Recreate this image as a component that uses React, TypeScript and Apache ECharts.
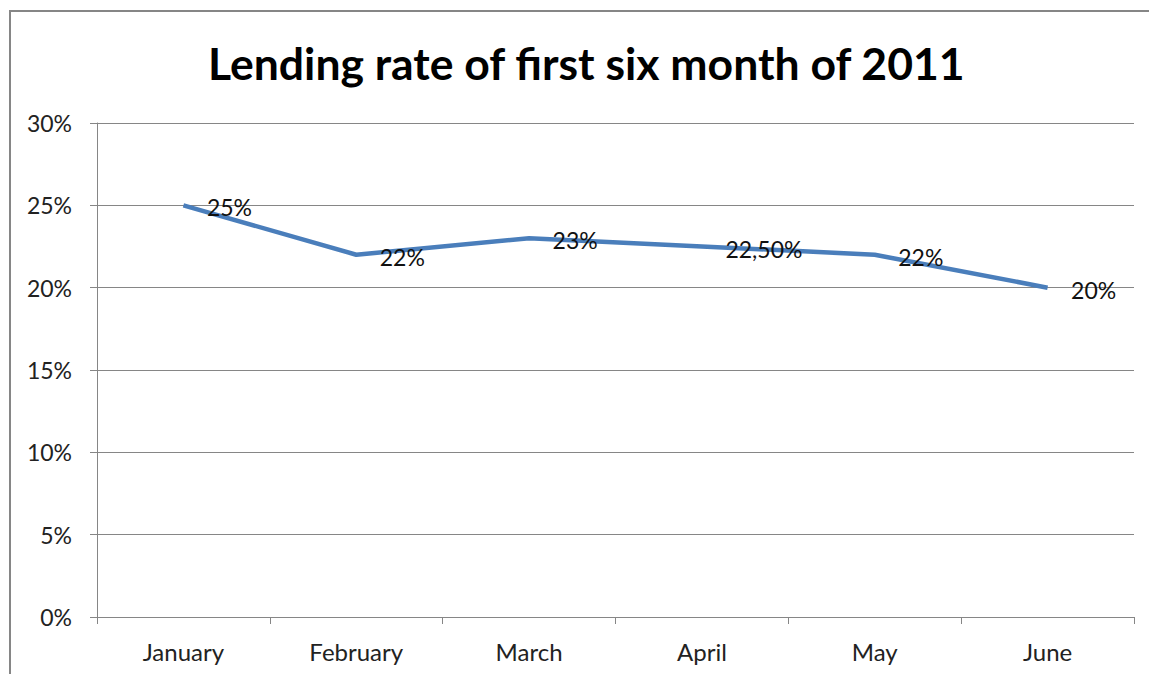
import React, { useEffect, useRef } from "react";
import * as echarts from "echarts";

const months = ["January", "February", "March", "April", "May", "June"];
const rates = [25, 22, 23, 22.5, 22, 20];
const rateLabels = ["25%", "22%", "23%", "22,50%", "22%", "20%"];
const yTicks = [0, 5, 10, 15, 20, 25, 30];

export default function App() {
  const ref = useRef<HTMLDivElement>(null);
  useEffect(() => {
    document.body.style.margin = "0";
    const chart = echarts.init(ref.current!, null, { renderer: "svg" });
    chart.setOption({
      animation: false,
      backgroundColor: "#ffffff",
      title: {
        text: "Lending rate of first six month of 2011",
        left: 203,
        top: 35,
        textStyle: {
          fontFamily: "Lato",
          fontWeight: "bold",
          fontSize: 44.5,
          color: "#000000",
        },
      },
      graphic: [
        {
          type: "rect",
          shape: { x: 10, y: 11, width: 1200, height: 720 },
          style: { fill: "none", stroke: "#868686", lineWidth: 2 },
          silent: true,
        },
      ],
      grid: { left: 97, right: 15, top: 123, bottom: 57 },
      xAxis: {
        type: "category",
        data: months,
        boundaryGap: true,
        axisLine: { show: true, lineStyle: { color: "#868686", width: 1 } },
        axisTick: { show: true, length: 7, inside: false, lineStyle: { color: "#868686" } },
        axisLabel: {
          margin: 22,
          fontFamily: "Lato",
          fontSize: 24,
          color: "#222222",
        },
        splitLine: { show: false },
      },
      yAxis: {
        type: "value",
        min: yTicks[0],
        max: yTicks[yTicks.length - 1],
        interval: 5,
        axisLine: { show: true, lineStyle: { color: "#868686", width: 1 } },
        axisTick: { show: true, length: 7, lineStyle: { color: "#868686" } },
        axisLabel: {
          margin: 25,
          formatter: "{value}%",
          fontFamily: "Lato",
          fontSize: 23,
          color: "#222222",
        },
        splitLine: { show: true, lineStyle: { color: "#868686", width: 1 } },
      },
      series: [
        {
          type: "line",
          data: rates,
          symbol: "circle",
          symbolSize: 1,
          showSymbol: true,
          itemStyle: { color: "rgba(0,0,0,0)" },
          lineStyle: { color: "#4a7ebb", width: 4.5 },
          label: {
            show: true,
            position: "right",
            distance: 23,
            offset: [0, 2],
            formatter: (p: any) => rateLabels[p.dataIndex],
            fontFamily: "Lato",
            fontSize: 23,
            color: "#111111",
          },
        },
      ],
    });
    return () => chart.dispose();
  }, []);
  return <div ref={ref} style={{ width: 1149, height: 674 }} />;
}
